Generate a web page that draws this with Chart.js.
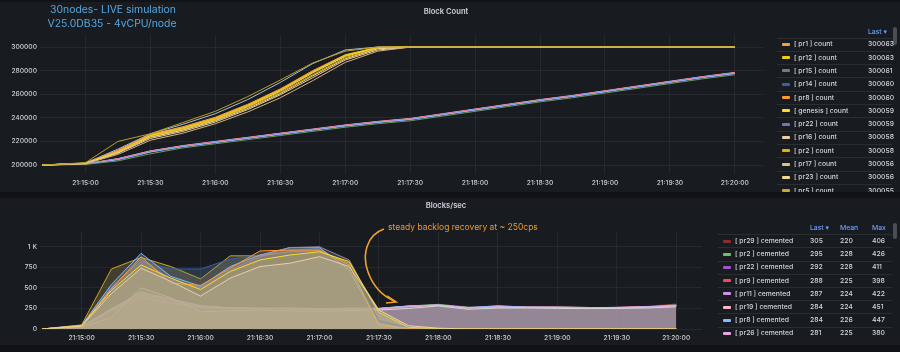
<!DOCTYPE html>
<html><head><meta charset="utf-8">
<script src="https://cdn.jsdelivr.net/npm/chart.js@4.4.0/dist/chart.umd.min.js"></script>
<style>
html,body{margin:0;padding:0;background:#111217;width:900px;height:352px;overflow:hidden;font-family:Inter,"DejaVu Sans",sans-serif;}
.panel{position:absolute;left:0;width:900px;background:#181b1f;overflow:hidden;}
#p1{top:2px;height:190px;}
#p2{top:198px;height:147px;}
canvas{position:absolute;left:0;top:0;}
.abs{position:absolute;white-space:nowrap;line-height:8px;}
.title{color:#d0d0dc;font-size:7.6px;font-weight:600;width:200px;text-align:center;}
.lg{color:#d4d5de;font-size:6.8px;font-weight:500;}
.hd{color:#6e9fff;font-size:6.8px;font-weight:500;}
.sep{position:absolute;height:1px;background:rgba(204,204,220,0.10);}
.sw{position:absolute;width:8px;height:3px;border-radius:1px;}
.sb{position:absolute;width:4px;border-radius:2px;background:#4a4d54;}
</style></head>
<body>
<div id="p1" class="panel"><canvas id="c1" width="900" height="190"></canvas></div>
<div id="p2" class="panel"><canvas id="c2" width="900" height="147"></canvas></div>
<div id="ov"></div>
<svg id="arrow" width="900" height="352" style="position:absolute;left:0;top:0;pointer-events:none">
  <path d="M384,229 C366,235 362,256 368,272 C373,286 383,296 394,301" fill="none" stroke="#f0a030" stroke-width="1.6"/>
  <path d="M387,296 L396,302 L386,303" fill="none" stroke="#f0a030" stroke-width="1.6"/>
</svg>
<script>
// ---------- DATA ----------
const times = ["21:14:40","21:15:00","21:15:15","21:15:30","21:15:45","21:16:00","21:16:15","21:16:30","21:16:45","21:17:00","21:17:15","21:17:30","21:17:45","21:18:00","21:18:15","21:18:30","21:18:45","21:19:00","21:19:15","21:19:30","21:19:45","21:20:00"];
const timeTicks = ["21:15:00","21:15:30","21:16:00","21:16:30","21:17:00","21:17:30","21:18:00","21:18:30","21:19:00","21:19:30","21:20:00"];
const timeMin = "21:14:39";
const timeMax = "21:20:13";
const countTicks = [200000,220000,240000,260000,280000,300000];
const rateTicks = [0,250,500,750,1000];

// Block Count — fast group
const cnt_pr1     = [200000,201600,212500,226000,232500,240500,251500,264500,280000,293500,299800,300045,300049,300052,300054,300056,300058,300059,300060,300061,300062,300063];
const cnt_pr12    = [200000,201500,211500,225000,231500,239500,250500,263500,279000,293000,299600,300042,300047,300050,300053,300055,300057,300059,300060,300061,300062,300063];
const cnt_pr15    = [200000,201400,212000,225500,231000,239000,250000,263000,278500,292500,299500,300040,300045,300049,300052,300054,300056,300057,300058,300059,300060,300061];
const cnt_pr14    = [200000,201700,213500,226500,234500,243500,255500,270000,286000,297500,300010,300045,300049,300052,300054,300055,300056,300057,300058,300059,300059,300060];
const cnt_pr8     = [200000,201500,212000,225500,231500,240000,251000,264000,279500,293000,299700,300043,300047,300050,300052,300054,300056,300057,300058,300059,300059,300060];
const cnt_genesis = [200000,201500,211000,224500,230500,238500,249500,262500,278000,292000,299400,300040,300045,300048,300051,300053,300055,300056,300057,300058,300058,300059];
const cnt_pr22    = [200000,201500,212500,226000,232000,240000,251000,264000,279000,293000,299700,300042,300046,300049,300051,300053,300055,300056,300057,300058,300058,300059];
const cnt_pr16    = [200000,201200,210000,222500,228500,236500,247000,259500,274000,289000,297500,299950,300040,300045,300048,300051,300053,300055,300056,300057,300057,300058];
const cnt_pr2     = [200000,201400,211000,224000,230000,238000,249000,261500,276500,291000,299000,300030,300043,300047,300050,300052,300054,300055,300056,300057,300057,300058];
const cnt_pr17    = [200000,201000,209000,221000,227000,235000,245000,257000,271500,287000,296500,299900,300038,300043,300046,300049,300051,300053,300054,300055,300055,300056];
const cnt_pr23    = [200000,201300,210500,223500,229500,237500,248000,260500,275500,290000,298500,300020,300041,300045,300048,300050,300052,300053,300054,300055,300055,300056];
const cnt_pr5     = [200000,202000,220000,226500,236000,245500,258000,272000,286500,296500,300000,300040,300043,300046,300048,300050,300051,300052,300053,300054,300054,300055];
// Block Count — slow group
const cnt_pr29    = [200000,201000,205500,212000,216500,220000,223500,227000,230500,234000,237000,239500,243500,247500,251500,255500,259000,263000,267000,271000,275000,278500];
const cnt_pr9     = [200000,201000,205000,211500,216000,219500,223000,226500,230000,233500,236500,239000,243000,247000,251000,255000,258500,262500,266500,270500,274500,278000];
const cnt_pr11    = [200000,200900,204800,211200,215800,219300,222800,226300,229800,233300,236300,238800,242800,246800,250800,254800,258300,262300,266300,270300,274300,277800];
const cnt_pr19    = [200000,201000,205200,211800,216200,219700,223200,226800,230200,233700,236700,239200,243200,247200,251200,255200,258700,262700,266700,270700,274700,278200];
const cnt_pr26    = [200000,200800,204500,211000,215500,219000,222500,226000,229500,233000,236000,238500,242500,246500,250500,254500,258000,262000,266000,270000,274000,277500];
const cnt_pr7     = [200000,200500,203500,209500,214500,218000,221500,225000,228500,232000,235000,237500,241500,245500,249500,253500,257000,261000,265000,269000,273000,276500];

// Blocks/sec — high group
const rate_h1 = [0,50,730,870,760,610,890,890,940,955,800,230,20,5,3,2,2,1,1,1,1,1];
const rate_h2 = [0,45,520,820,730,730,850,900,960,980,760,100,10,2,0,0,0,0,0,0,0,0];
const rate_h3 = [0,45,540,920,640,520,760,900,990,990,720,60,8,0,0,0,0,0,0,0,0,0];
const rate_h4 = [0,40,490,880,560,530,740,950,960,960,780,40,5,0,0,0,0,0,0,0,0,0];
const rate_h5 = [0,40,470,780,620,480,700,840,900,940,820,200,20,5,0,0,0,0,0,0,0,0];
const rate_h6 = [0,40,500,850,600,500,720,880,990,1000,840,180,30,5,0,0,0,0,0,0,0,0];
const rate_h7 = [0,35,430,740,580,400,620,760,800,880,760,230,40,10,0,0,0,0,0,0,0,0];
// Blocks/sec — cemented
const cem_pr29 = [0,25,220,406,330,270,250,245,240,235,245,240,270,285,255,265,260,262,258,262,275,305];
const cem_pr2  = [0,35,240,426,350,280,255,250,255,245,250,250,280,300,265,270,262,268,262,258,272,295];
const cem_pr22 = [0,30,230,411,345,275,258,252,248,240,252,248,278,292,258,272,266,264,260,262,268,292];
const cem_pr9  = [0,28,225,398,300,268,250,255,258,250,240,235,265,288,258,268,264,266,262,258,270,288];
const cem_pr11 = [0,32,235,422,355,278,256,248,250,238,248,246,276,290,262,274,266,262,258,264,268,287];
const cem_pr19 = [0,30,245,451,365,285,258,250,252,242,250,248,278,292,260,270,268,266,260,262,270,284];
const cem_pr8  = [0,30,240,447,360,282,252,246,250,244,255,252,280,291,256,285,264,264,262,256,268,284];
const cem_pr26 = [0,28,225,380,320,265,250,250,245,238,246,244,272,288,254,268,262,262,258,260,266,281];
const cem_pr4  = [0,20,140,500,380,210,220,230,220,215,225,230,250,280,240,255,255,250,248,250,255,270];

// Legend tables
const topLegendNames = ["[ pr1 ] count","[ pr12 ] count","[ pr15 ] count","[ pr14 ] count","[ pr8 ] count","[ genesis ] count","[ pr22 ] count","[ pr16 ] count","[ pr2 ] count","[ pr17 ] count","[ pr23 ] count","[ pr5 ] count"];
const topLegendLast = [300063,300063,300061,300060,300060,300059,300059,300058,300058,300056,300056,300055];
const botLegendNames = ["[ pr29 ] cemented","[ pr2 ] cemented","[ pr22 ] cemented","[ pr9 ] cemented","[ pr11 ] cemented","[ pr19 ] cemented","[ pr8 ] cemented","[ pr26 ] cemented"];
const botLegendLast = [305,295,292,288,287,284,284,281];
const botLegendMean = [220,228,228,225,224,224,226,225];
const botLegendMax = [406,426,411,398,422,451,447,380];

// ---------- STYLE ----------
const topSeries = [
  [cnt_pr5,"#b8a020"],[cnt_pr17,"#d8b080"],[cnt_pr16,"#e8cfa8"],[cnt_pr23,"#f0d890"],[cnt_pr2,"#e0b400"],[cnt_genesis,"#fade2a"],
  [cnt_pr12,"#f2cc0c"],[cnt_pr8,"#ff9830"],[cnt_pr1,"#f2a23c"],
  [cnt_pr15,"#a09cc0"],[cnt_pr22,"#9d8fd6"],[cnt_pr14,"#a9bde0"],
  [cnt_pr7,"#6a9a5a"],[cnt_pr26,"#8ab8ff"],[cnt_pr11,"#b877d9"],[cnt_pr9,"#e05a6a"],[cnt_pr19,"#ffa6b0"],[cnt_pr29,"#c8a0c8"]
];
const topLegendColors = ["#f2a23c","#f2cc0c","#7a7590","#3d5f9e","#ff9830","#fade2a","#7f6fb8","#e8cfa8","#e0b400","#e4bd8c","#f0d890","#c8a830"];
const botSeries = [
  [rate_h7,"#e8cfa8",true],[rate_h5,"#fade2a",true],[rate_h4,"#ff9830",true],[rate_h6,"#8f8aa8",true],
  [rate_h3,"#8ab8ff",true],[rate_h2,"#2f5fb0",true],[rate_h1,"#c8a820",true],
  [cem_pr4,"#d8d8d8",false],[cem_pr26,"#e5a8e2",false],[cem_pr8,"#8ab8ff",false],[cem_pr19,"#ffb3c8",false],[cem_pr11,"#ca95e5",false],
  [cem_pr9,"#f2495c",false],[cem_pr22,"#a352cc",false],[cem_pr2,"#73bf69",false],[cem_pr29,"#8e2b2b",false]
];
const botLegendColors = ["#8e2b2b","#73bf69","#a352cc","#f2495c","#ca95e5","#ffb3c8","#8ab8ff","#e5a8e2"];

function toSec(t){const p=t.split(":").map(Number);return p[0]*3600+p[1]*60+p[2];}
function fmt(s){const h=Math.floor(s/3600),m=Math.floor(s%3600/60),ss=Math.round(s%60);return String(h).padStart(2,"0")+":"+String(m).padStart(2,"0")+":"+String(ss).padStart(2,"0");}
function fillOf(hex,a){const n=parseInt(hex.slice(1),16);const g=160,k=0.5;
  const r=Math.round((n>>16)*k+g*(1-k)),gg=Math.round(((n>>8)&255)*k+g*(1-k)),b=Math.round((n&255)*k+g*(1-k));
  return `rgba(${r},${gg},${b},${a})`;}
const secs = times.map(toSec);
const pts = arr => arr.map((v,i)=>({x:secs[i],y:v}));

const tickColor = "#cdd0d6";
const gridColor = "rgba(204,204,220,0.08)";
const font = {family:"Inter", size:6.7, weight:"500"};

function xScale(h,pad){
  return {type:"linear",min:toSec(timeMin),max:toSec(timeMax),
    afterBuildTicks:s=>{s.ticks=timeTicks.map(t=>({value:toSec(t)}));},
    afterFit:s=>{s.height=h;},
    ticks:{color:tickColor,font,padding:pad,maxRotation:0,autoSkip:false,callback:v=>fmt(v)},
    grid:{color:gridColor,drawTicks:false},border:{display:false}};
}

new Chart(document.getElementById("c1"),{
  type:"line",
  data:{datasets:topSeries.map(([d,c])=>({data:pts(d),borderColor:c,borderWidth:1,pointRadius:0,fill:false,tension:0}))},
  options:{responsive:false,animation:false,events:[],
    layout:{padding:{top:33,right:137,left:0,bottom:0}},
    plugins:{legend:{display:false},tooltip:{enabled:false}},
    scales:{
      x:xScale(18,5),
      y:{type:"linear",min:192400,max:310200,
        afterBuildTicks:s=>{s.ticks=countTicks.map(v=>({value:v}));},
        afterFit:s=>{s.width=40;},
        ticks:{color:tickColor,font,padding:3,callback:v=>String(v)},
        grid:{color:gridColor,drawTicks:false},border:{display:false}}
    }}
});

new Chart(document.getElementById("c2"),{
  type:"line",
  data:{datasets:botSeries.map(([d,c,h])=>({data:pts(d),borderColor:c,borderWidth:1,pointRadius:0,fill:"origin",backgroundColor:fillOf(c,h?0.27:0.17),tension:0}))},
  options:{responsive:false,animation:false,events:[],
    layout:{padding:{top:34,right:198,left:0,bottom:0}},
    plugins:{legend:{display:false},tooltip:{enabled:false},filler:{propagate:false}},
    scales:{
      x:xScale(16,5),
      y:{type:"linear",min:0,max:1180,
        afterBuildTicks:s=>{s.ticks=rateTicks.map(v=>({value:v}));},
        afterFit:s=>{s.width=40;},
        ticks:{color:tickColor,font,padding:3,callback:v=>v>=1000?(v/1000)+" K":String(v)},
        grid:{color:gridColor,drawTicks:false},border:{display:false}}
    }}
});

// ---------- HTML overlays ----------
const ov = document.getElementById("ov");
function el2(parent,cls,x,y,txt,extra){const d=document.createElement("div");d.className="abs "+cls;d.style.left=x+"px";d.style.top=y+"px";if(txt!==undefined)d.textContent=txt;if(extra)Object.assign(d.style,extra);parent.appendChild(d);return d;}
const el=(cls,x,y,txt,extra)=>el2(ov,cls,x,y,txt,extra);
el("title",346,8,"Block Count");
el("title",346,202,"Blocks/sec");
el("",0,3,"30nodes- LIVE simulation",{color:"#55a7e2",fontSize:"10.4px",width:"226px",textAlign:"center",lineHeight:"13px"});
el("",0,16.5,"V25.0DB35 - 4vCPU/node",{color:"#55a7e2",fontSize:"10.4px",width:"224px",textAlign:"center",lineHeight:"13px"});
el("",388,222,"steady backlog recovery at ~ 250cps",{color:"#ec9b30",fontSize:"8.5px",lineHeight:"10px"});

// top legend
const clip1 = document.createElement("div");
Object.assign(clip1.style,{position:"absolute",left:"0",top:"0",width:"900px",height:"192px",overflow:"hidden"});
ov.appendChild(clip1);
el2(clip1,"hd",868,27.5,"Last \u25BE");
el2(clip1,"sb",893,27,undefined,{height:"18px"});
topLegendNames.forEach((n,i)=>{
  const cy=44.3+13.3*i;
  el2(clip1,"sep",777,Math.round(cy-6.8),undefined,{width:"115px"});
  el2(clip1,"sw",782,Math.round(cy-1.5),undefined,{background:topLegendColors[i]});
  el2(clip1,"lg",794,cy-4,n);
  el2(clip1,"lg",868,cy-4,String(topLegendLast[i]));
});
// bottom legend
el("hd",810,223.7,"Last \u25BE");
el("hd",840,223.7,"Mean");
el("hd",872,223.7,"Max");
el("sb",893,223,undefined,{height:"16px"});
botLegendNames.forEach((n,i)=>{
  const cy=241+13.2*i;
  el("sep",718,Math.round(cy-6.8),undefined,{width:"174px"});
  el("sw",723,Math.round(cy-1.5),undefined,{background:botLegendColors[i]});
  el("lg",735,cy-4,n);
  el("lg",810,cy-4,String(botLegendLast[i]));
  el("lg",840,cy-4,String(botLegendMean[i]));
  el("lg",872,cy-4,String(botLegendMax[i]));
});
</script>
</body></html>
